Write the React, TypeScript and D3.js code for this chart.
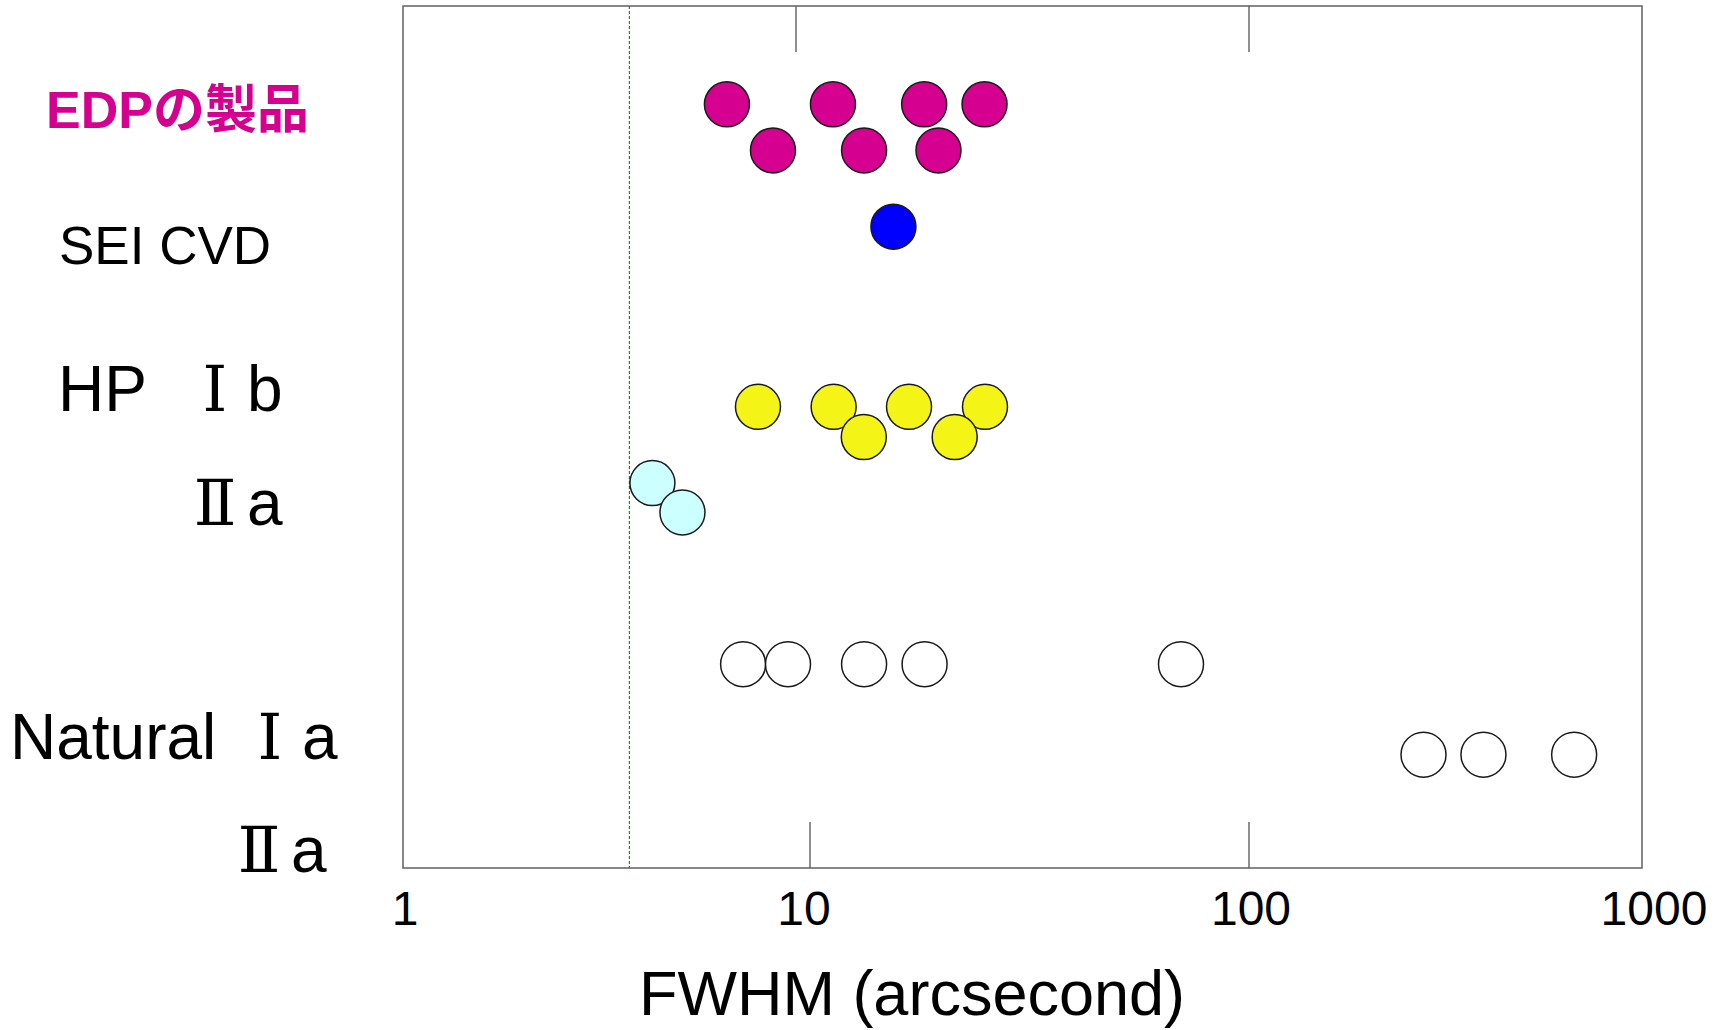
import React, { useRef, useEffect } from "react";
import * as d3 from "d3";

const width = 1717;
const height = 1030;
const frame = { left: 403, right: 1642, top: 6, bottom: 868 };
// the original axis is not an even log scale: pixel position of each decade
const decadePx = [403, 810, 1249, 1642];
const topDecadePx = [403, 796, 1249, 1642]; // top ticks sit a bit off in the source
const labelShift = [2, -6, 2, 12];

const decades = [1, 10, 100, 1000];
const tickLabels = ["1", "10", "100", "1000"];
const xTitle = "FWHM (arcsecond)";
const limitLine = 3.6;

// FWHM values (arcsecond) and the lane (0 top .. 100 bottom) of each dot
const edpFwhm = [6.25, 11.28, 18.2, 24.98, 8.11, 13.28, 19.62];
const edpLane = [11.4, 11.4, 11.4, 11.4, 16.75, 16.75, 16.75];
const seiFwhm = [15.49];
const seiLane = [25.6];
const hp1bFwhm = [7.45, 11.32, 16.81, 25.04, 13.26, 21.36];
const hp1bLane = [46.5, 46.5, 46.5, 46.5, 50.0, 50.0];
const hp2aFwhm = [4.1, 4.86];
const hp2aLane = [55.35, 58.75];
const naturalFwhm = [6.85, 8.83, 13.28, 18.24, 70.0, 278, 395, 672];
const naturalLane = [76.35, 76.35, 76.35, 76.35, 76.35, 86.85, 86.85, 86.85];

const series = [
  { name: "EDP", fwhm: edpFwhm, lane: edpLane, fill: "#d5008f" },
  { name: "SEI CVD", fwhm: seiFwhm, lane: seiLane, fill: "#0000ff" },
  { name: "HP Ib", fwhm: hp1bFwhm, lane: hp1bLane, fill: "#f4f417" },
  { name: "HP IIa", fwhm: hp2aFwhm, lane: hp2aLane, fill: "#ccffff" },
  { name: "Natural", fwhm: naturalFwhm, lane: naturalLane, fill: "#ffffff" },
];

const font = '"Liberation Sans", Arial, "Noto Sans CJK JP", sans-serif';
const numeralFont = '"DejaVu Serif", "Noto Sans CJK JP", serif';

// row labels on the left: pieces [text, x, numeral?]; numerals are centred on x
const rowLabels = [
  { y: 128, size: 52, bold: true, fill: "#d5008f", parts: [["EDPの製品", 46, false]] },
  { y: 264, size: 53, bold: false, fill: "#000", parts: [["SEI CVD", 59, false]] },
  { y: 411, size: 64, bold: false, fill: "#000", parts: [["HP", 58, false], ["Ⅰ", 215, true], ["b", 247, false]] },
  { y: 525, size: 64, bold: false, fill: "#000", parts: [["Ⅱ", 215, true], ["a", 247, false]] },
  { y: 759, size: 64, bold: false, fill: "#000", parts: [["Natural", 10, false], ["Ⅰ", 270, true], ["a", 302, false]] },
  { y: 872, size: 64, bold: false, fill: "#000", parts: [["Ⅱ", 259, true], ["a", 291, false]] },
];

const App = () => {
  const ref = useRef(null);

  useEffect(() => {
    const svg = d3.select(ref.current);
    svg.selectAll("*").remove();

    const xLog = d3.scaleLinear().domain([0, 1, 2, 3]).range(decadePx);
    const x = (v) => xLog(Math.log10(v));
    const xTopLog = d3.scaleLinear().domain([0, 1, 2, 3]).range(topDecadePx);
    const xTop = (v) => xTopLog(Math.log10(v));
    const y = d3.scaleLinear().domain([0, 100]).range([frame.top, frame.bottom]);

    svg
      .append("rect")
      .attr("width", width)
      .attr("height", height)
      .attr("fill", "#fff");

    // green limit line
    svg
      .append("line")
      .attr("x1", x(limitLine))
      .attr("x2", x(limitLine))
      .attr("y1", frame.top)
      .attr("y2", frame.bottom)
      .attr("stroke", "#00a000")
      .attr("stroke-width", 1.2)
      .attr("stroke-dasharray", "3,2");

    // inner ticks top and bottom
    const inner = decades.slice(1, 3);
    svg
      .append("g")
      .selectAll("line")
      .data(inner)
      .join("line")
      .attr("x1", (d) => xTop(d))
      .attr("x2", (d) => xTop(d))
      .attr("y1", frame.top)
      .attr("y2", frame.top + 46)
      .attr("stroke", "#6a6a6a")
      .attr("stroke-width", 1.5);
    svg
      .append("g")
      .selectAll("line")
      .data(inner)
      .join("line")
      .attr("x1", (d) => x(d))
      .attr("x2", (d) => x(d))
      .attr("y1", frame.bottom - 46)
      .attr("y2", frame.bottom)
      .attr("stroke", "#6a6a6a")
      .attr("stroke-width", 1.5);

    svg
      .append("rect")
      .attr("x", frame.left)
      .attr("y", frame.top)
      .attr("width", frame.right - frame.left)
      .attr("height", frame.bottom - frame.top)
      .attr("fill", "none")
      .attr("stroke", "#606060")
      .attr("stroke-width", 1.5);

    // tick labels
    svg
      .append("g")
      .style("font-family", font)
      .style("font-size", "48px")
      .attr("text-anchor", "middle")
      .selectAll("text")
      .data(decades)
      .join("text")
      .attr("x", (d, i) => x(d) + labelShift[i])
      .attr("y", 925)
      .text((d, i) => tickLabels[i]);

    svg
      .append("text")
      .attr("x", 912)
      .attr("y", 1015)
      .attr("text-anchor", "middle")
      .style("font-family", font)
      .style("font-size", "63px")
      .text(xTitle);

    // dots
    series.forEach((s) => {
      const pts = s.fwhm.map((v, i) => ({ v, lane: s.lane[i] }));
      svg
        .append("g")
        .selectAll("circle")
        .data(pts)
        .join("circle")
        .attr("cx", (d) => x(d.v))
        .attr("cy", (d) => y(d.lane))
        .attr("r", 22.5)
        .attr("fill", s.fill)
        .attr("stroke", "#1a1a1a")
        .attr("stroke-width", 1.5);
    });

    // row labels, one text per piece
    const pieces = rowLabels.flatMap((r) =>
      r.parts.map((p) => ({ ...r, text: p[0], x: p[1], numeral: p[2] }))
    );
    svg
      .append("g")
      .selectAll("text")
      .data(pieces)
      .join("text")
      .attr("x", (d) => d.x)
      .attr("y", (d) => d.y)
      .attr("fill", (d) => d.fill)
      .attr("text-anchor", (d) => (d.numeral ? "middle" : "start"))
      .style("font-family", (d) => (d.numeral ? numeralFont : font))
      .style("font-size", (d) => (d.numeral ? d.size * 0.98 : d.size) + "px")
      .style("font-weight", (d) => (d.bold ? "bold" : "normal"))
      .text((d) => d.text);
  }, []);

  return (
    <svg
      ref={ref}
      width={width}
      height={height}
      style={{ position: "absolute", left: 0, top: 0, display: "block" }}
    />
  );
};

export default App;
